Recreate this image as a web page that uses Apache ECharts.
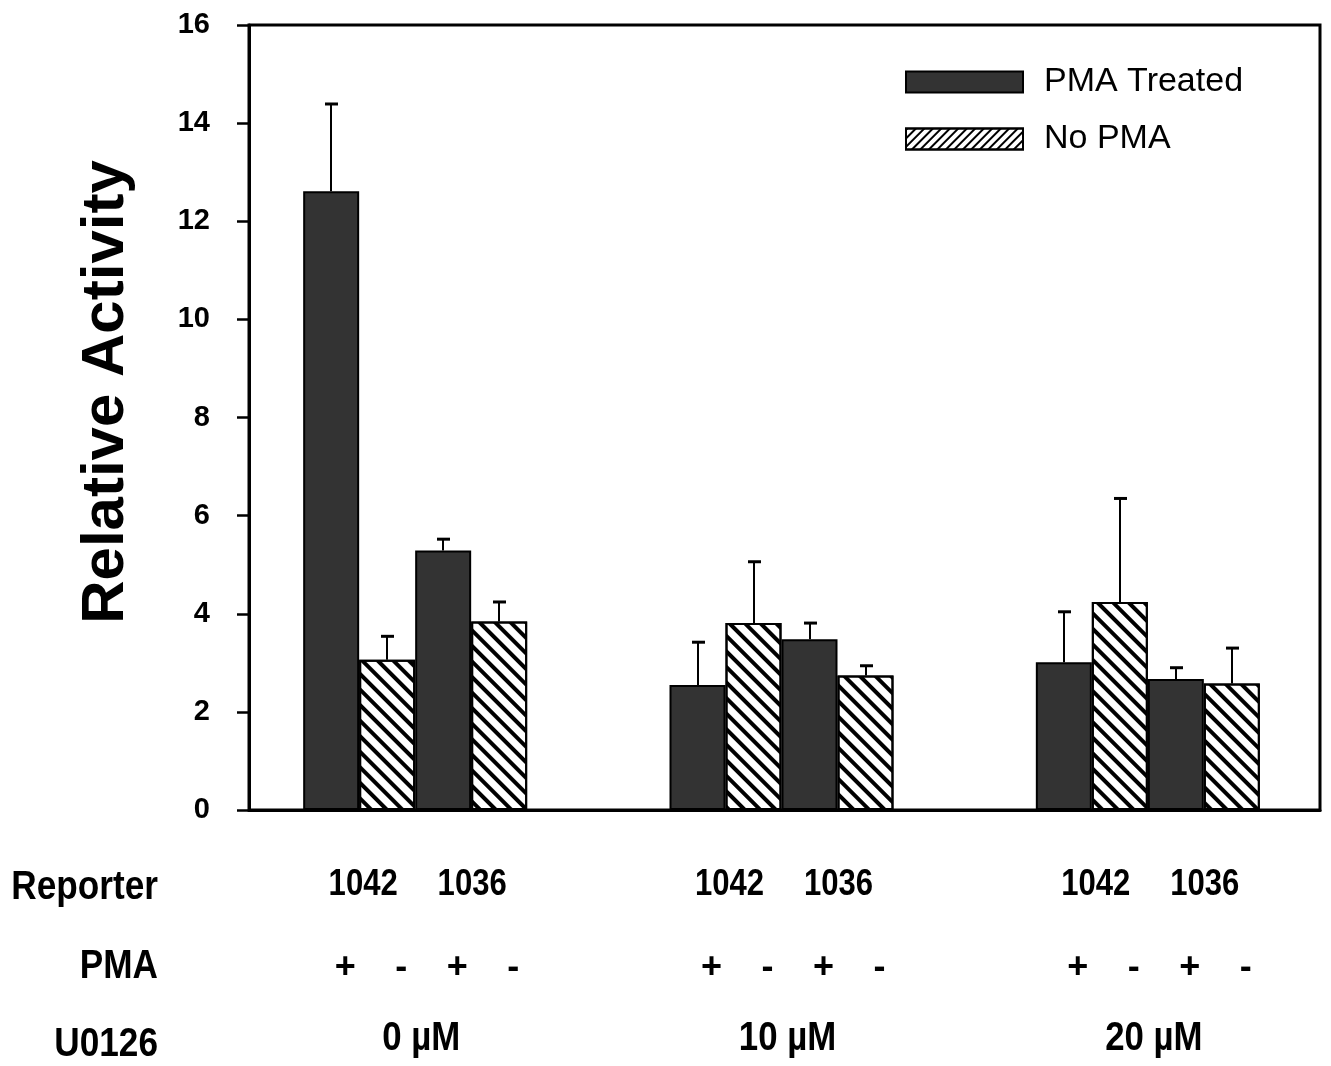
<!DOCTYPE html>
<html><head><meta charset="utf-8">
<script src="https://cdn.jsdelivr.net/npm/echarts@6/dist/echarts.min.js"></script>
<style>html,body{margin:0;padding:0;background:#fff}#c{width:1331px;height:1066px}</style>
</head><body><div id="c"></div>
<script>
// ---- data ----
const categories = ['0 \u00b5M', '10 \u00b5M', '20 \u00b5M'];
const reporters = ['1042', '1036'];
const pmaSigns = ['+', '-', '+', '-'];
const rowLabels = ['Reporter', 'PMA', 'U0126'];
const seriesNames = ['PMA Treated', 'No PMA'];
const yMin = 0, yMax = 16, yStep = 2;

const pma1042 = [12.61, 2.55, 3.01];
const pma1042Err = [1.78, 0.87, 1.03];
const no1042 = [3.06, 3.81, 4.24];
const no1042Err = [0.48, 1.25, 2.11];
const pma1036 = [5.29, 3.48, 2.67];
const pma1036Err = [0.23, 0.33, 0.23];
const no1036 = [3.84, 2.74, 2.58];
const no1036Err = [0.40, 0.20, 0.72];

// ---- styling ----
const SANS = '"Liberation Sans", Arial, sans-serif';
const BAR_W = 56;
const barDecal = { symbol: 'rect', symbolSize: 1, dashArrayX: [1, 0], dashArrayY: [4, 7], rotation: Math.PI / 4, color: '#000' };
const legendDecal = { symbol: 'rect', symbolSize: 1, dashArrayX: [1, 0], dashArrayY: [2, 4], rotation: -Math.PI / 4, color: '#000' };
const darkStyle = { color: '#333333', borderColor: '#000', borderWidth: 2 };
const hatchStyle = { color: '#ffffff', borderColor: '#000', borderWidth: 2, decal: barDecal };

const barSets = [
  { name: seriesNames[0], vals: pma1042, errs: pma1042Err, style: darkStyle },
  { name: seriesNames[1], vals: no1042, errs: no1042Err, style: hatchStyle },
  { name: seriesNames[0], vals: pma1036, errs: pma1036Err, style: darkStyle },
  { name: seriesNames[1], vals: no1036, errs: no1036Err, style: hatchStyle }
];

const errData = [];
barSets.forEach((b, s) => b.vals.forEach((v, i) => errData.push([i, v, b.errs[i], s])));

const chart = echarts.init(document.getElementById('c'), null, { renderer: 'canvas' });

const series = barSets.map(b => ({
  type: 'bar', name: b.name, xAxisIndex: 1, yAxisIndex: 1,
  data: b.vals, barWidth: BAR_W, barGap: '0%', itemStyle: b.style,
  emphasis: { disabled: true }, z: 2
}));

series.push({
  type: 'custom', name: 'err', xAxisIndex: 1, yAxisIndex: 1, z: 5, silent: true,
  data: errData,
  renderItem: function (params, api) {
    const base = api.coord([api.value(0), api.value(1)]);
    const top = api.coord([api.value(0), api.value(1) + api.value(2)]);
    const x = Math.round(base[0] + (api.value(3) - 1.5) * BAR_W);
    return { type: 'group', children: [
      { type: 'line', shape: { x1: x, y1: base[1], x2: x, y2: top[1] }, style: { stroke: '#000', lineWidth: 2 } },
      { type: 'line', shape: { x1: x - 6, y1: top[1], x2: x + 7, y2: top[1] }, style: { stroke: '#000', lineWidth: 3 } }
    ] };
  }
});

function txt(x, y, text, size, sx, align) {
  return { type: 'text', x: x, y: y, scaleX: sx, scaleY: 1,
    style: { text: text, font: 'bold ' + size + 'px ' + SANS, fill: '#000', align: align || 'center', verticalAlign: 'middle' } };
}

series.push({
  type: 'custom', name: 'table', xAxisIndex: 1, yAxisIndex: 1, z: 5, silent: true, clip: false,
  data: categories.map((c, i) => [i, 0]),
  renderItem: function (params, api) {
    const i = api.value(0);
    const cx = api.coord([i, 0])[0];
    const ch = [];
    ch.push(txt(cx + 6, 1039, categories[i], 40, 0.87));
    reporters.forEach((r, k) => ch.push(txt(cx + (k * 2 - 1) * 54.5 + 2.5, 885, r, 37, 0.84)));
    pmaSigns.forEach((s, k) => ch.push(txt(cx + (k - 1.5) * BAR_W + 14, 968, s, 36, 1)));
    return { type: 'group', children: ch };
  }
});

const rowY = [888, 967, 1045];
const graphics = rowLabels.map((t, k) => txt(158, rowY[k], t, 40, 0.88, 'right'));
graphics.push({
  type: 'text', x: 106, y: 392, rotation: Math.PI / 2,
  style: { text: 'Relative Activity', font: 'bold 60px ' + SANS, fill: '#000', align: 'center', verticalAlign: 'middle' }
});

chart.setOption({
  animation: false,
  backgroundColor: '#fff',
  grid: [
    { left: 249, right: 11, top: 25, bottom: 256, show: true, borderColor: '#000', borderWidth: 3, backgroundColor: 'transparent' },
    { left: 232, width: 1102, top: 25, bottom: 256 }
  ],
  xAxis: [
    { type: 'category', gridIndex: 0, data: categories, axisLine: { lineStyle: { color: '#000', width: 3 } }, axisTick: { show: false }, axisLabel: { show: false } },
    { type: 'category', gridIndex: 1, data: categories, show: false }
  ],
  yAxis: [
    { type: 'value', gridIndex: 0, min: yMin, max: yMax, interval: yStep, splitLine: { show: false },
      axisLine: { show: true, lineStyle: { color: '#000', width: 3 } },
      axisTick: { show: true, length: 12, lineStyle: { color: '#000', width: 2.5 } },
      axisLabel: { color: '#000', fontSize: 29, fontWeight: 'bold', fontFamily: SANS, margin: 39 } },
    { type: 'value', gridIndex: 1, min: yMin, max: yMax, show: false, splitLine: { show: false } }
  ],
  legend: {
    orient: 'vertical', left: 905, top: 65, padding: 0, itemWidth: 117, itemHeight: 21, itemGap: 23,
    icon: 'rect', selectedMode: false,
    textStyle: { fontFamily: SANS, fontSize: 34, color: '#000', padding: [0, 0, 0, 16] },
    data: [ { name: seriesNames[0] }, { name: seriesNames[1], itemStyle: { decal: legendDecal } } ]
  },
  graphic: graphics,
  series: series
});
</script>
</body></html>
